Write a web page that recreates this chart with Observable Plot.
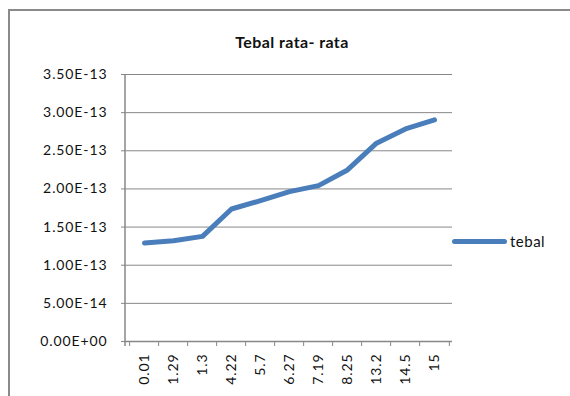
<!DOCTYPE html>
<html>
<head>
<meta charset="utf-8">
<script src="https://cdn.jsdelivr.net/npm/d3@7"></script>
<script src="https://cdn.jsdelivr.net/npm/@observablehq/plot@0.6"></script>
<style>
  html, body { margin: 0; padding: 0; background: #fff; }
  #wrap { position: relative; width: 570px; height: 396px; overflow: hidden; font-family: Lato, "Open Sans", sans-serif; }
  #border { position: absolute; left: 8px; top: 9px; width: 600px; height: 500px; border-left: 2px solid #8a8a8a; border-top: 2px solid #8a8a8a; box-sizing: border-box; }
  #title { position: absolute; left: 0; width: 584px; top: 32px; text-align: center; font-weight: bold; font-size: 16px; letter-spacing: 0.4px; color: #111; }
  #legend { position: absolute; left: 452px; top: 232px; display: flex; align-items: center; font-size: 15px; letter-spacing: 0.5px; color: #111; }
  #legend .sw { width: 55px; height: 5px; border-radius: 3px; background: #4A7EBB; margin-right: 3px; }
  svg { position: absolute; left: 0; top: 0; }
</style>
</head>
<body>
<div id="wrap">
  <div id="border"></div>
  <div id="title">Tebal rata- rata</div>
  <div id="legend"><div class="sw"></div><span>tebal</span></div>
</div>
<script>
const categories = ["0.01", "1.29", "1.3", "4.22", "5.7", "6.27", "7.19", "8.25", "13.2", "14.5", "15"];
const tebal = [1.29e-13, 1.32e-13, 1.378e-13, 1.737e-13, 1.846e-13, 1.964e-13, 2.043e-13, 2.249e-13, 2.60e-13, 2.787e-13, 2.905e-13];
const yTicks = [0, 5e-14, 1e-13, 1.5e-13, 2e-13, 2.5e-13, 3e-13, 3.5e-13];

const data = categories.map((c, i) => ({cat: c, value: tebal[i]}));

const W = 570, H = 396, mL = 125, mR = 118, mT = 74, mB = 55;
const step = (W - mL - mR) / categories.length;
const grid = "#878787";

function fmt(d) {
  let s = d.toExponential(2).toUpperCase();
  return s.replace(/E([+-])(\d)$/, "E$10$2");
}

const plot = Plot.plot({
  width: W, height: H,
  marginLeft: mL, marginRight: mR, marginTop: mT, marginBottom: mB,
  style: {background: "transparent", fontFamily: "Lato, 'Open Sans', sans-serif", fontSize: "14px", color: "#111", overflow: "visible", letterSpacing: "0.9px"},
  x: {type: "point", domain: categories, padding: 0.5},
  y: {domain: [0, 3.5e-13]},
  marks: [
    Plot.gridY(yTicks, {stroke: grid, strokeOpacity: 1, strokeWidth: 1}),
    Plot.axisY(yTicks, {tickFormat: fmt, tickSize: 4, tickPadding: 14, stroke: grid, fontSize: 14, fill: "#111", label: null}),
    Plot.axisX({tickSize: 0, tickPadding: 12, tickRotate: -90, fontSize: 14, fill: "#111", label: null, textAnchor: "end"}),
    Plot.axisX(categories, {tickSize: 5, text: null, dx: -step / 2, stroke: grid, label: null}),
    Plot.axisX([categories[categories.length - 1]], {tickSize: 5, text: null, dx: step / 2, stroke: grid, label: null}),
    Plot.ruleY([0], {stroke: grid, strokeWidth: 1.5}),
    Plot.line(data, {x: "cat", y: "value", stroke: "#4A7EBB", strokeWidth: 5, strokeLinecap: "round", strokeLinejoin: "round"})
  ]
});

// y axis line
const svg = d3.select(plot);
const yS = plot.scale("y");
svg.append("line")
  .attr("x1", mL).attr("x2", mL)
  .attr("y1", yS.range[1]).attr("y2", yS.range[0] + 5)
  .attr("stroke", grid).attr("stroke-width", 1.5);
svg.selectAll("g[aria-label='line']").raise();

document.getElementById("wrap").insertBefore(plot, document.getElementById("title"));
</script>
</body>
</html>
